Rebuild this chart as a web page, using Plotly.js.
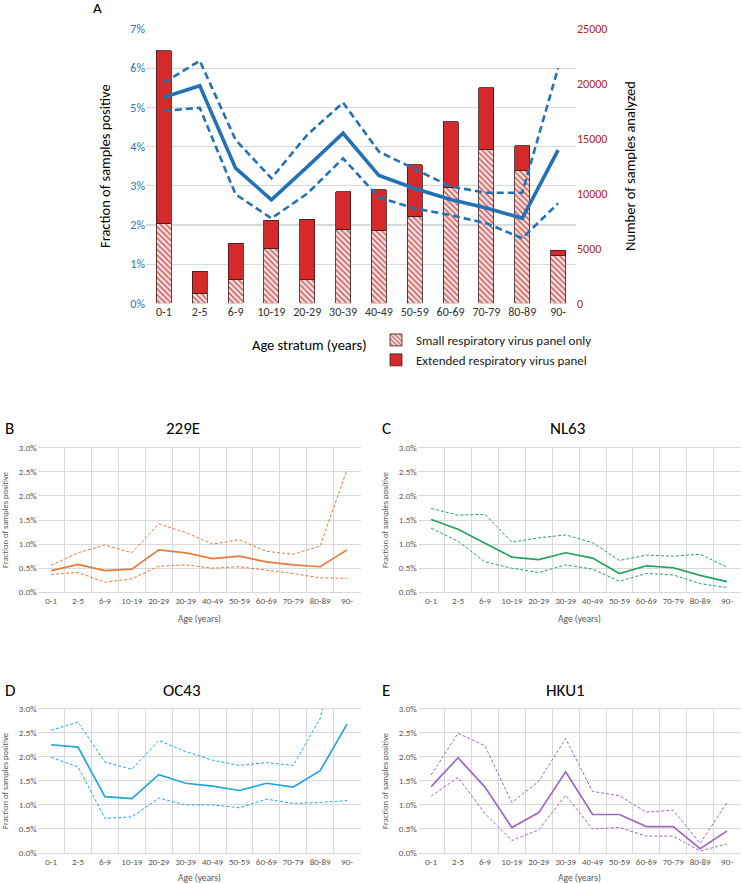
<!DOCTYPE html>
<html>
<head>
<meta charset="utf-8">
<script src="https://cdn.plot.ly/plotly-3.0.1.min.js"></script>
<style>html,body{margin:0;padding:0;background:#fff;}#chart{width:742px;height:883px;}</style>
</head>
<body>
<div id="chart"></div>
<script>
// ---------- DATA ----------
const ageGroups = ['0-1','2-5','6-9','10-19','20-29','30-39','40-49','50-59','60-69','70-79','80-89','90-'];

// Panel A: number of samples analyzed
const smallPanelN    = [7300, 900, 2180, 4970, 2150, 6760, 6660, 7940, 10520, 14060, 12060, 4330];
const extendedPanelN = [15700, 2010, 3300, 2580, 5510, 3390, 3700, 4670, 6020, 5580, 2280, 490];

// Panel A: fraction positive (all coronaviruses), estimate and 95% CI
const allMid = [0.0526, 0.0555, 0.0345, 0.0264, 0.0348, 0.0434, 0.0326, 0.0293, 0.0265, 0.0243, 0.0217, 0.0391];
const allHi  = [0.0563, 0.0619, 0.0417, 0.0319, 0.0430, 0.0512, 0.0387, 0.0342, 0.0298, 0.0282, 0.0282, 0.0600];
const allLo  = [0.0491, 0.0499, 0.0278, 0.0217, 0.0280, 0.0370, 0.0270, 0.0242, 0.0225, 0.0204, 0.0166, 0.0255];

// Panel B: 229E
const e229Mid = [0.0045, 0.0058, 0.0045, 0.0048, 0.0088, 0.0082, 0.0070, 0.0075, 0.0063, 0.0057, 0.0053, 0.0088];
const e229Hi  = [0.0056, 0.0082, 0.0098, 0.0082, 0.0142, 0.0124, 0.0100, 0.0109, 0.0085, 0.0079, 0.0096, 0.0255];
const e229Lo  = [0.0037, 0.0041, 0.0021, 0.0028, 0.0054, 0.0057, 0.0050, 0.0053, 0.0046, 0.0039, 0.0030, 0.0029];

// Panel C: NL63
const nl63Mid = [0.0151, 0.0131, 0.0102, 0.0073, 0.0068, 0.0082, 0.0071, 0.0039, 0.0055, 0.0051, 0.0035, 0.0022];
const nl63Hi  = [0.0174, 0.0160, 0.0162, 0.0104, 0.0113, 0.0119, 0.0103, 0.0066, 0.0077, 0.0075, 0.0079, 0.0052];
const nl63Lo  = [0.0133, 0.0106, 0.0063, 0.0050, 0.0041, 0.0057, 0.0048, 0.0023, 0.0039, 0.0036, 0.0018, 0.0010];

// Panel D: OC43
const oc43Mid = [0.0225, 0.0220, 0.0117, 0.0113, 0.0163, 0.0145, 0.0139, 0.0130, 0.0145, 0.0137, 0.0171, 0.0268];
const oc43Hi  = [0.0255, 0.0272, 0.0189, 0.0174, 0.0234, 0.0211, 0.0193, 0.0182, 0.0188, 0.0182, 0.0280, 0.0500];
const oc43Lo  = [0.0199, 0.0179, 0.0072, 0.0075, 0.0114, 0.0100, 0.0100, 0.0094, 0.0112, 0.0103, 0.0105, 0.0109];

// Panel E: HKU1
const hku1Mid = [0.0138, 0.0198, 0.0137, 0.0053, 0.0084, 0.0169, 0.0080, 0.0080, 0.0055, 0.0055, 0.0009, 0.0046];
const hku1Hi  = [0.0162, 0.0249, 0.0223, 0.0105, 0.0149, 0.0238, 0.0128, 0.0119, 0.0085, 0.0089, 0.0020, 0.0105];
const hku1Lo  = [0.0118, 0.0157, 0.0082, 0.0026, 0.0048, 0.0120, 0.0050, 0.0053, 0.0035, 0.0035, 0.0004, 0.0019];

const panelTitles = ['229E', 'NL63', 'OC43', 'HKU1'];
const yTickVals = [0, 0.005, 0.01, 0.015, 0.02, 0.025, 0.03];

// ---------- LAYOUT HELPERS ----------
const W = 742, H = 883;
const px = v => v / W;
const py = v => 1 - v / H;
const FONT = 'Carlito, Lato, "Open Sans", sans-serif';

const blueA = '#2372B6';
const traces = [];

// Panel A bars (on right axis 'y')
traces.push({
  type: 'bar', x: ageGroups, y: smallPanelN, xaxis: 'x', yaxis: 'y',
  name: 'Small respiratory virus panel only', width: 0.42,
  marker: { color: '#F3D6D6', line: { color: '#3a1c1c', width: 0.8 },
            pattern: { shape: '\\', fgcolor: '#C9504E', bgcolor: '#F6E1E1', size: 4, solidity: 0.35 } },
  hoverinfo: 'skip'
});
traces.push({
  type: 'bar', x: ageGroups, y: extendedPanelN, xaxis: 'x', yaxis: 'y',
  name: 'Extended respiratory virus panel', width: 0.42,
  marker: { color: '#D62A2A', line: { color: '#3a1c1c', width: 0.8 } },
  hoverinfo: 'skip'
});
// Panel A lines (on left axis 'y2', overlaying)
[[allHi, 'dash', 2.6], [allLo, 'dash', 2.6], [allMid, 'solid', 3.6]].forEach(([arr, dash, w]) => {
  traces.push({ type: 'scatter', mode: 'lines', x: ageGroups, y: arr, xaxis: 'x', yaxis: 'y2',
    line: { color: blueA, width: w, dash: dash === 'dash' ? '7px,4px' : 'solid' }, showlegend: false, hoverinfo: 'skip' });
});

// Small panels
const small = [
  { mid: e229Mid, hi: e229Hi, lo: e229Lo, color: '#E8793A', xa: 'x2', ya: 'y3' },
  { mid: nl63Mid, hi: nl63Hi, lo: nl63Lo, color: '#23A25C', xa: 'x3', ya: 'y4' },
  { mid: oc43Mid, hi: oc43Hi, lo: oc43Lo, color: '#1FA8D8', xa: 'x4', ya: 'y5' },
  { mid: hku1Mid, hi: hku1Hi, lo: hku1Lo, color: '#9C68C0', xa: 'x5', ya: 'y6' }
];
small.forEach(p => {
  [[p.hi, true], [p.lo, true], [p.mid, false]].forEach(([arr, dashed]) => {
    traces.push({ type: 'scatter', mode: 'lines', x: ageGroups, y: arr, xaxis: p.xa, yaxis: p.ya,
      line: { color: p.color, width: dashed ? 1 : 1.7, dash: dashed ? '3px,2px' : 'solid' },
      showlegend: false, hoverinfo: 'skip' });
  });
});

// Domains for small panels
const leftX = [px(37.7), px(360.5)];
const rightX = [px(417.7), px(740.5)];
const topY = [py(592.3), py(447.7)];
const botY = [py(853), py(708.7)];

function smallX(domain, anchor) {
  return { domain: domain, anchor: anchor, type: 'category', range: [-0.5, ageGroups.length - 0.5],
    tickson: 'boundaries', showgrid: true,
    gridcolor: '#D9D9D9', gridwidth: 1, showline: true, linecolor: '#D9D9D9', mirror: true, ticks: '',
    tickangle: 0, tickfont: { size: 9, color: '#595959', family: FONT }, fixedrange: true, ticklen: 0 };
}
function smallY(domain, anchor) {
  return { domain: domain, anchor: anchor, range: [0, 0.03], tickvals: yTickVals, tickformat: '.1%',
    showgrid: true, gridcolor: '#D9D9D9', gridwidth: 1, zeroline: false, showline: false, ticks: '',
    tickfont: { size: 9, color: '#595959', family: FONT }, fixedrange: true };
}

const layout = {
  width: W, height: H,
  margin: { l: 0, r: 0, t: 0, b: 0 },
  paper_bgcolor: '#fff', plot_bgcolor: 'rgba(0,0,0,0)',
  font: { family: FONT, color: '#000' },
  barmode: 'stack',
  showlegend: true,
  legend: { x: px(376), y: py(325), xanchor: 'left', yanchor: 'top', traceorder: 'normal',
            font: { size: 13, color: '#222', family: FONT }, bgcolor: 'rgba(0,0,0,0)', itemwidth: 30, tracegroupgap: 0 },
  xaxis: { domain: [px(146), px(576)], anchor: 'y2', type: 'category', showgrid: false, showline: false, ticks: '',
           tickangle: 0, tickfont: { size: 12, color: '#333', family: FONT }, fixedrange: true },
  yaxis: { domain: [py(303.3), py(29)], anchor: 'x', side: 'right', range: [0, 25000], dtick: 5000, tickformat: 'd',
           showgrid: false, zeroline: false, ticks: '', tickfont: { size: 12, color: '#B22222', family: FONT }, fixedrange: true },
  yaxis2: { domain: [py(303.3), py(29)], anchor: 'x', overlaying: 'y', side: 'left', range: [0, 0.07], dtick: 0.01,
            tickformat: '.0%', showgrid: true, gridcolor: '#D9D9D9', gridwidth: 1.2, zeroline: false, ticks: '',
            tickfont: { size: 12, color: '#2E75B6', family: FONT }, fixedrange: true },
  xaxis2: smallX(leftX, 'y3'), yaxis3: smallY(topY, 'x2'),
  xaxis3: smallX(rightX, 'y4'), yaxis4: smallY(topY, 'x3'),
  xaxis4: smallX(leftX, 'y5'), yaxis5: smallY(botY, 'x4'),
  xaxis5: smallX(rightX, 'y6'), yaxis6: smallY(botY, 'x5'),
  annotations: []
};

function ann(text, x, y, size, opts) {
  layout.annotations.push(Object.assign({ text: text, xref: 'paper', yref: 'paper', x: px(x), y: py(y),
    showarrow: false, xanchor: 'center', yanchor: 'middle', font: { size: size, color: '#000', family: FONT } }, opts || {}));
}
// Panel A texts
ann('A', 91, 8, 15, { xanchor: 'left' });
ann('Fraction of samples positive', 105, 166, 14.5, { textangle: -90 });
ann('Number of samples analyzed', 630, 166, 14.5, { textangle: -90 });
ann('Age stratum (years)', 309, 345, 14.5);

// Small panel texts
const letters = ['B', 'C', 'D', 'E'];
const panelPos = [
  { lx: 3, tx: 183, ty: 428, yt: 5, cy: 520, ax: 199, ay: 619 },
  { lx: 380, tx: 567, ty: 428, yt: 385, cy: 520, ax: 579, ay: 619 },
  { lx: 3, tx: 182, ty: 690, yt: 5, cy: 781, ax: 199, ay: 878 },
  { lx: 380, tx: 565, ty: 690, yt: 385, cy: 781, ax: 579, ay: 878 }
];
panelPos.forEach((p, i) => {
  ann(letters[i], p.lx, p.ty, 17, { xanchor: 'left' });
  ann(panelTitles[i], p.tx, p.ty, 17);
  ann('Fraction of samples positive', p.yt, p.cy, 8.5, { textangle: -90, font: { size: 8.5, color: '#595959', family: FONT } });
  ann('Age (years)', p.ax, p.ay, 9.5, { font: { size: 9.5, color: '#595959', family: FONT } });
});

Plotly.newPlot('chart', traces, layout, { staticPlot: true, displayModeBar: false });
</script>
</body>
</html>
